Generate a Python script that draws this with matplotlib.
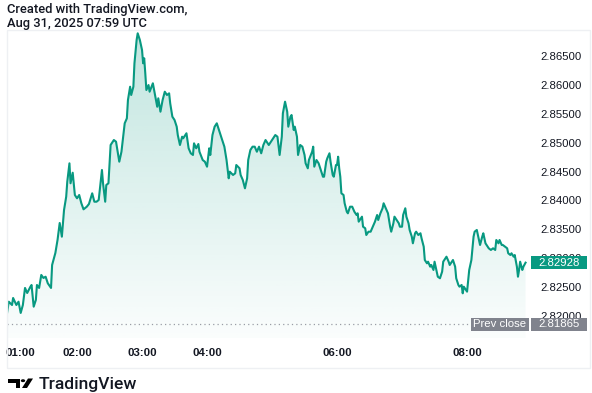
import numpy as np
import matplotlib
matplotlib.use("Agg")
import matplotlib.pyplot as plt
from matplotlib.patches import Rectangle, PathPatch, Polygon, Circle
from matplotlib.transforms import blended_transform_factory, ScaledTranslation

# minutes after midnight (chart time) and price
minutes = [55, 57, 60, 61, 64, 66, 68, 70, 72, 74, 77, 78, 80, 82, 83, 85, 87, 89, 91, 93,
           96, 97, 100, 102, 104, 106, 108, 110, 111, 113, 114, 116, 118, 120, 122, 124, 126, 129, 131, 134,
           136, 138, 140, 143, 144, 146, 147, 149, 151, 154, 156, 157, 159, 161, 163, 164, 166, 167, 169, 170,
           172, 173, 175, 176, 178, 180, 181, 182, 183, 184, 186, 187, 190, 192, 194, 195, 197, 199, 201, 203,
           205, 206, 208, 210, 212, 213, 215, 217, 218, 221, 223, 225, 227, 228, 230, 232, 233, 236, 238, 240,
           242, 243, 245, 247, 249, 251, 254, 256, 258, 260, 261, 264, 266, 267, 270, 271, 273, 275, 277, 278,
           280, 282, 284, 286, 288, 290, 292, 294, 297, 299, 301, 303, 305, 307, 309, 310, 312, 314, 315, 317,
           318, 320, 321, 323, 324, 326, 328, 330, 331, 333, 334, 337, 338, 339, 341, 343, 345, 347, 348, 350,
           351, 353, 354, 356, 357, 359, 360, 361, 362, 363, 364, 366, 367, 369, 370, 372, 374, 376, 378, 379,
           380, 381, 383, 384, 386, 387, 389, 391, 393, 395, 397, 398, 400, 402, 403, 405, 407, 409, 410, 412,
           413, 415, 417, 418, 420, 421, 423, 424, 426, 427, 429, 430, 432, 433, 435, 437, 438, 440, 441, 443,
           444, 446, 447, 449, 450, 452, 453, 455, 457, 458, 460, 461, 463, 464, 466, 467, 469, 470, 472, 473,
           475, 476, 477, 479, 480, 482, 484, 486, 487, 489, 491, 492, 494, 495, 497, 498, 500, 502, 504, 506,
           507, 509, 510, 512, 513, 515, 517, 518, 520, 521, 523, 524, 526, 527, 528, 529, 531, 532, 534]
prices = [2.82009, 2.82255, 2.82198, 2.82319, 2.82198, 2.82255, 2.82061, 2.82198, 2.82492, 2.82405,
          2.82514, 2.82543, 2.82169, 2.82285, 2.82543, 2.82492, 2.82716, 2.82664, 2.82686, 2.82573,
          2.82492, 2.82888, 2.83095, 2.83319, 2.83612, 2.83376, 2.83836, 2.84066, 2.84324, 2.84641,
          2.84297, 2.84479, 2.84095, 2.84038, 2.84095, 2.83952, 2.83848, 2.83893, 2.83940, 2.84124,
          2.83979, 2.83979, 2.84009, 2.84526, 2.84297, 2.83979, 2.84267, 2.84297, 2.84957, 2.85043,
          2.85014, 2.84900, 2.84669, 2.84841, 2.85159, 2.85331, 2.85417, 2.85733, 2.85962, 2.85819,
          2.85962, 2.86366, 2.86767, 2.86883, 2.86767, 2.86595, 2.86366, 2.86452, 2.86193, 2.85905,
          2.85991, 2.85876, 2.86021, 2.85819, 2.85617, 2.85762, 2.85531, 2.85733, 2.85876, 2.85819,
          2.85848, 2.85676, 2.85445, 2.85388, 2.85273, 2.85129, 2.84957, 2.85100, 2.85073, 2.85159,
          2.84900, 2.84814, 2.84785, 2.84986, 2.84900, 2.84974, 2.84841, 2.84698, 2.84669, 2.84583,
          2.84900, 2.84785, 2.85129, 2.85273, 2.85331, 2.85216, 2.85043, 2.84928, 2.84698, 2.84383,
          2.84497, 2.84440, 2.84469, 2.84612, 2.84555, 2.84440, 2.84354, 2.84210, 2.84383, 2.84698,
          2.84871, 2.84928, 2.84928, 2.84841, 2.84928, 2.84814, 2.84957, 2.85043, 2.84957, 2.85014,
          2.85073, 2.85129, 2.85100, 2.84785, 2.85100, 2.85504, 2.85704, 2.85531, 2.85273, 2.85445,
          2.85474, 2.85216, 2.85273, 2.85100, 2.84785, 2.84957, 2.84928, 2.84785, 2.84641, 2.84555,
          2.84698, 2.84841, 2.84928, 2.84583, 2.84698, 2.84641, 2.84526, 2.84410, 2.84410, 2.84669,
          2.84728, 2.84814, 2.84669, 2.84440, 2.84410, 2.84612, 2.84612, 2.84755, 2.84555, 2.84410,
          2.84124, 2.84095, 2.83952, 2.83807, 2.83779, 2.83893, 2.83893, 2.83807, 2.83750, 2.83779,
          2.83635, 2.83664, 2.83721, 2.83548, 2.83521, 2.83405, 2.83462, 2.83462, 2.83548, 2.83635,
          2.83750, 2.83664, 2.83779, 2.83866, 2.83952, 2.83866, 2.83779, 2.83548, 2.83462, 2.83607,
          2.83721, 2.83664, 2.83607, 2.83548, 2.83548, 2.83750, 2.83866, 2.83721, 2.83607, 2.83492,
          2.83376, 2.83262, 2.83435, 2.83462, 2.83405, 2.83435, 2.83348, 2.83204, 2.82974, 2.82917,
          2.82945, 2.82859, 2.82888, 2.82802, 2.82945, 2.82773, 2.82686, 2.82659, 2.82773, 2.82945,
          2.83004, 2.83031, 2.82945, 2.82888, 2.82945, 2.82974, 2.82859, 2.82659, 2.82543, 2.82514,
          2.82543, 2.82400, 2.82514, 2.82457, 2.82428, 2.82802, 2.82974, 2.83376, 2.83462, 2.83492,
          2.83319, 2.83233, 2.83376, 2.83435, 2.83262, 2.83233, 2.83176, 2.83147, 2.83176, 2.83147,
          2.83319, 2.83262, 2.83319, 2.83233, 2.83233, 2.83204, 2.83176, 2.83090, 2.83060, 2.83090,
          2.83031, 2.83060, 2.82859, 2.82686, 2.82802, 2.82945, 2.82802, 2.82859, 2.82928]

prev_close = 2.81865
last_price = 2.82928
price_ticks = [2.820, 2.825, 2.830, 2.835, 2.840, 2.845, 2.850, 2.855, 2.860, 2.865]
time_ticks = [60, 120, 180, 240, 360, 480]
time_labels = ["01:00", "02:00", "03:00", "04:00", "06:00", "08:00"]

GREEN = "#089981"
TXT = "#131722"
GRAY = "#80838d"
W, H = 592, 393

t = np.array(minutes, dtype=float)
p = np.array(prices)

fig = plt.figure(figsize=(W / 100, H / 100), dpi=100)
fig.patch.set_facecolor("white")

def fx(px):
    return px / W

def fy(py):
    return 1 - py / H

# outer frame
fig.patches.append(Rectangle((fx(6.5), fy(368)), fx(583), 338 / H, transform=fig.transFigure,
                             fill=False, edgecolor="#eef0f3", linewidth=1))

ax = fig.add_axes([fx(7), fy(338), 523 / W, 308 / H])
ymin, ymax = 2.81629, 2.86940
ax.set_xlim(55.36, 538.1)
ax.set_ylim(ymin, ymax)
for s in ax.spines.values():
    s.set_visible(False)

# gradient fill under the line
poly = ax.fill_between(t, p, ymin, facecolor="none", edgecolor="none")
clip = PathPatch(poly.get_paths()[0], transform=ax.transData, facecolor="none", edgecolor="none")
ax.add_patch(clip)
grad = np.zeros((256, 1, 4))
grad[:, 0, 0] = 8 / 255
grad[:, 0, 1] = 153 / 255
grad[:, 0, 2] = 129 / 255
grad[:, 0, 3] = np.linspace(0.02, 0.25, 256)
im = ax.imshow(grad, extent=[t[0], t[-1], ymin, p.max()], origin="lower", aspect="auto", zorder=1)
im.set_clip_path(clip)

ax.plot(t, p, color=GREEN, linewidth=1.5, zorder=3, solid_joinstyle="round")

# prev close dotted line
ax.axhline(prev_close, xmin=0, xmax=(470 - 7) / 523, color="#9a9da6", linestyle=(0, (1, 2.5)),
           linewidth=0.9, zorder=2)

# axes ticks
ax.set_xticks(time_ticks)
ax.set_xticklabels(time_labels)
ax.set_yticks(price_ticks)
ax.set_yticklabels([f"{v:.5f}" for v in price_ticks])
ax.yaxis.tick_right()
ax.tick_params(axis="both", length=0, colors=TXT)
ax.tick_params(axis="x", pad=7)
ax.tick_params(axis="y", pad=7.5)
for lab in ax.get_xticklabels():
    lab.set_fontfamily("Liberation Sans")
    lab.set_fontweight("bold")
    lab.set_fontsize(8.2)
for lab in ax.get_yticklabels():
    lab.set_fontfamily("Liberation Sans")
    lab.set_fontsize(8.2)
first = ax.get_xticklabels()[0]
first.set_ha("left")
first.set_transform(first.get_transform() + ScaledTranslation(-5 / 72, 0, fig.dpi_scale_trans))

# price tags on the right (drawn over the axis labels, as in the original)
bt = blended_transform_factory(ax.transAxes, ax.transData)
box_h = 13 / (308 / (ymax - ymin))
ax.add_patch(Rectangle((524 / 523, last_price - box_h / 2), 56 / 523, box_h, transform=bt,
                       facecolor=GREEN, edgecolor="none", clip_on=False, zorder=5))
ax.text(573 / 523, last_price, f"{last_price:.5f}", transform=bt, ha="right", va="center",
        color="white", fontsize=8.2, fontfamily="Liberation Sans", zorder=6, clip_on=False)
ax.add_patch(Rectangle((524 / 523, prev_close - box_h / 2), 56 / 523, box_h, transform=bt,
                       facecolor=GRAY, edgecolor="none", clip_on=False, zorder=5))
ax.text(573 / 523, prev_close, f"{prev_close:.5f}", transform=bt, ha="right", va="center",
        color="white", fontsize=8.2, fontfamily="Liberation Sans", zorder=6, clip_on=False)
ax.add_patch(Rectangle((464 / 523, prev_close - box_h / 2), 58 / 523, box_h, transform=bt,
                       facecolor=GRAY, edgecolor="none", clip_on=False, zorder=5))
ax.text(493 / 523, prev_close, "Prev close", transform=bt, ha="center", va="center",
        color="white", fontsize=8.2, fontfamily="Liberation Sans", zorder=6, clip_on=False)

# header
fig.text(fx(7), fy(10), "Created with TradingView.com,", fontsize=9.3, fontfamily="Roboto",
         fontweight="medium", color=TXT, va="center", ha="left")
fig.text(fx(7), fy(23.5), "Aug 31, 2025 07:59 UTC", fontsize=9.3, fontfamily="Roboto",
         fontweight="medium", color=TXT, va="center", ha="left")

# footer logo
def pts(lst):
    return [(fx(a), fy(b)) for a, b in lst]

fig.patches.append(Polygon(pts([(8, 378.5), (20, 378.5), (20, 388), (15.5, 388), (15.5, 382.5), (8, 382.5)]),
                           closed=True, transform=fig.transFigure, facecolor="black", edgecolor="none"))
fig.patches.append(Circle((fx(23), fy(380.7)), 2.2 / W, transform=fig.transFigure,
                          facecolor="black", edgecolor="none"))
fig.patches.append(Polygon(pts([(28, 378.5), (33, 378.5), (27, 388), (22, 388)]), closed=True,
                           transform=fig.transFigure, facecolor="black", edgecolor="none"))
fig.text(fx(38.5), fy(384), "TradingView", fontsize=12.6, fontfamily="Roboto", fontweight="medium",
         color=TXT, va="center", ha="left")

fig.savefig("out.png", dpi=100)
